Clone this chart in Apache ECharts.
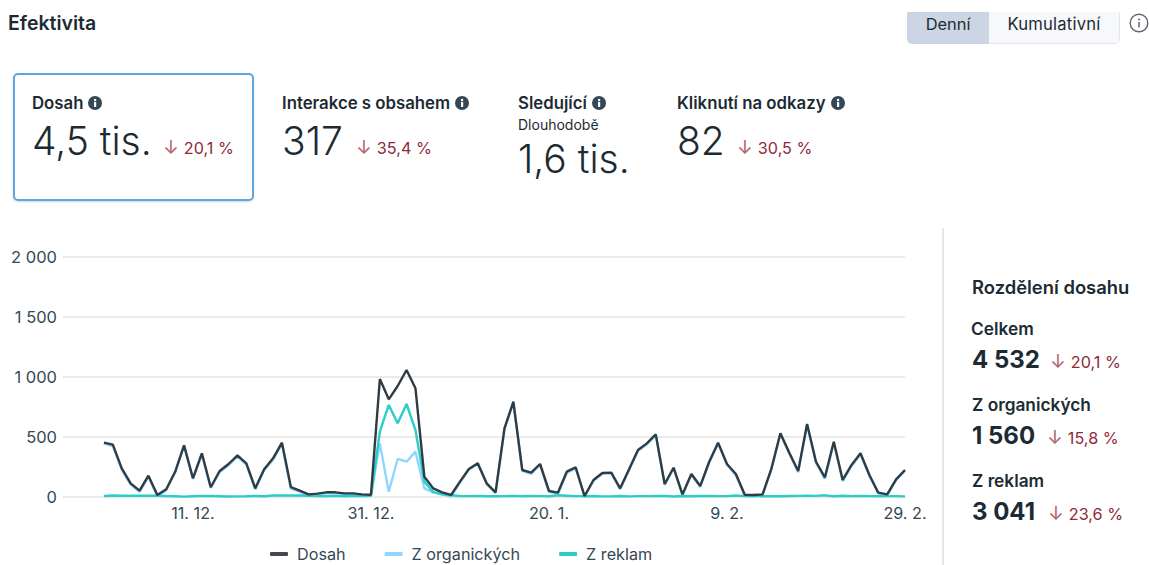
<!DOCTYPE html>
<html lang="cs">
<head>
<meta charset="utf-8">
<title>Efektivita</title>
<script src="https://cdn.jsdelivr.net/npm/echarts@6/dist/echarts.min.js"></script>
<style>
html,body{margin:0;padding:0;background:#fff;width:1149px;height:565px;overflow:hidden;font-family:Inter,"Noto Sans",sans-serif;color:#1c2b33}
#chart{position:absolute;left:0;top:0;width:1149px;height:565px}
.t{position:absolute;white-space:nowrap;line-height:1}
.lab{font-size:16.8px;font-weight:600}
.big{font-size:39px;font-weight:300}
.red{font-size:16.2px;color:#8f2a38;font-weight:400}
.arr{color:#b0666f;font-size:19px;margin-right:5px}
.num{font-size:24px;font-weight:700}
.sm{font-size:14px;font-weight:400}
.side{font-size:17.3px}
.info{display:inline-block;vertical-align:-1px;margin-left:5px}
#card{position:absolute;left:13px;top:73px;width:237px;height:124px;border:2px solid #62a5dc;border-radius:5px;box-shadow:0 1px 2px rgba(60,110,170,.25)}
#sep{position:absolute;left:942px;top:228px;width:2px;height:337px;background:#e3e8f0}
#b1{position:absolute;left:907px;top:12px;width:82px;height:32px;background:#cbd5e3;border-radius:0 0 0 5px;text-align:center;line-height:25px;font-size:16.4px}
#b2{position:absolute;left:989px;top:12px;width:130px;height:31px;background:#f6f8fa;border-bottom:1px solid #e3e7ed;border-right:1px solid #e3e7ed;border-radius:0 0 5px 0;text-align:center;line-height:25px;font-size:16.6px;letter-spacing:.2px}
</style>
</head>
<body>
<div id="chart"></div>
<div class="t" style="left:8px;top:14px;font-size:19.5px;font-weight:600">Efektivita</div>
<div id="b1">Denní</div><div id="b2">Kumulativní</div>
<svg style="position:absolute;left:1129px;top:13px" width="20" height="20"><circle cx="10" cy="10" r="8.8" fill="none" stroke="#606770" stroke-width="1.4"/><rect x="9.3" y="9" width="1.5" height="5.5" fill="#606770"/><circle cx="10" cy="6.6" r="1" fill="#606770"/></svg>

<div id="card"></div>
<div class="t lab" style="left:32px;top:95px" data-info>Dosah</div>
<div class="t big" style="left:32px;top:121px">4,5 tis.</div>
<div class="t red" style="left:163px;top:138px"><span class="arr">↓</span>20,1 %</div>

<div class="t lab" style="left:282px;top:95px" data-info>Interakce s obsahem</div>
<div class="t big" style="left:282px;top:121px">317</div>
<div class="t red" style="left:356px;top:138px"><span class="arr">↓</span>35,4 %</div>

<div class="t lab" style="left:518px;top:95px" data-info>Sledující</div>
<div class="t sm" style="left:518px;top:118px">Dlouhodobě</div>
<div class="t big" style="left:518px;top:139px">1,6 tis.</div>

<div class="t lab" style="left:677px;top:95px" data-info>Kliknutí na odkazy</div>
<div class="t big" style="left:677px;top:121px">82</div>
<div class="t red" style="left:737px;top:138px"><span class="arr">↓</span>30,5 %</div>

<div id="sep"></div>
<div class="t" style="left:972px;top:278px;font-size:18.4px;font-weight:600">Rozdělení dosahu</div>
<div class="t lab side" style="left:971px;top:320px">Celkem</div>
<div class="t num" style="left:972px;top:348px">4 532</div>
<div class="t red" style="left:1050px;top:352px"><span class="arr">↓</span>20,1 %</div>
<div class="t lab side" style="left:972px;top:396px">Z organických</div>
<div class="t num" style="left:972px;top:424px">1 560</div>
<div class="t red" style="left:1047px;top:428px"><span class="arr">↓</span>15,8 %</div>
<div class="t lab side" style="left:972px;top:472px">Z reklam</div>
<div class="t num" style="left:972px;top:500px">3 041</div>
<div class="t red" style="left:1048px;top:504px"><span class="arr">↓</span>23,6 %</div>

<script>
const dates = [
"1. 12.","2. 12.","3. 12.","4. 12.","5. 12.","6. 12.","7. 12.","8. 12.","9. 12.","10. 12.",
"11. 12.","12. 12.","13. 12.","14. 12.","15. 12.","16. 12.","17. 12.","18. 12.","19. 12.","20. 12.",
"21. 12.","22. 12.","23. 12.","24. 12.","25. 12.","26. 12.","27. 12.","28. 12.","29. 12.","30. 12.",
"31. 12.","1. 1.","2. 1.","3. 1.","4. 1.","5. 1.","6. 1.","7. 1.","8. 1.","9. 1.",
"10. 1.","11. 1.","12. 1.","13. 1.","14. 1.","15. 1.","16. 1.","17. 1.","18. 1.","19. 1.",
"20. 1.","21. 1.","22. 1.","23. 1.","24. 1.","25. 1.","26. 1.","27. 1.","28. 1.","29. 1.",
"30. 1.","31. 1.","1. 2.","2. 2.","3. 2.","4. 2.","5. 2.","6. 2.","7. 2.","8. 2.",
"9. 2.","10. 2.","11. 2.","12. 2.","13. 2.","14. 2.","15. 2.","16. 2.","17. 2.","18. 2.",
"19. 2.","20. 2.","21. 2.","22. 2.","23. 2.","24. 2.","25. 2.","26. 2.","27. 2.","28. 2.",
"29. 2."];
const dosah = [
453,436,239,114,53,178,17,64,210,430,
156,364,81,217,275,347,281,72,231,322,
453,83,53,22,28,39,39,30,30,22,
19,983,814,925,1058,906,169,72,39,17,
128,233,281,114,39,572,794,225,203,275,
50,36,211,247,8,142,200,203,72,231,
392,447,522,108,244,22,192,92,294,453,
275,192,19,17,22,239,531,369,217,608,
294,164,461,142,267,364,183,36,22,147,
225];
const organicke = [
445,424,228,103,42,168,6,56,206,427,
150,355,75,208,265,335,270,62,224,310,
440,70,42,12,20,30,30,24,22,14,
10,447,44,317,294,378,72,36,22,4,
120,228,275,108,33,565,785,218,192,268,
44,22,200,240,2,134,195,198,64,226,
385,440,514,100,240,14,186,84,286,446,
268,180,12,8,16,232,525,360,206,600,
285,150,455,132,260,355,176,30,15,140,
220];
const reklamy = [
8,12,11,11,10,10,11,8,6,3,
6,9,8,6,4,5,6,8,6,12,
13,13,12,10,7,6,9,6,8,8,
9,544,767,614,775,558,128,42,22,14,
8,7,8,6,6,7,9,6,8,7,
6,14,11,7,6,8,5,5,8,5,
7,7,8,8,4,8,6,8,8,7,
7,12,7,9,6,7,6,8,9,10,
9,14,6,10,7,9,7,6,7,7,
5];
const xTicks = ["11. 12.","31. 12.","20. 1.","9. 2.","29. 2."];
const yTickLabels = {0:"0",500:"500",1000:"1 000",1500:"1 500",2000:"2 000"};
const names = ["Dosah","Z organických","Z reklam"];

document.querySelectorAll('[data-info]').forEach(function(el){
  el.insertAdjacentHTML('beforeend','<svg class="info" width="14" height="14"><circle cx="7" cy="7" r="7" fill="#344854"/><rect x="6" y="6" width="2.2" height="5" fill="#fff"/><circle cx="7.1" cy="4" r="1.2" fill="#fff"/></svg>');
});

const pairs = vals => dates.map((d,i)=>[i,vals[i]]);
const chart = echarts.init(document.getElementById('chart'),null,{renderer:'svg',width:1149,height:565});
chart.setOption({
  animation:false,
  backgroundColor:'transparent',
  grid:{left:63,right:244,top:257,bottom:68,containLabel:false},
  legend:{
    left:270,top:546,padding:0,itemWidth:18,itemHeight:4,itemGap:39,icon:'roundRect',
    textStyle:{fontFamily:'Inter',fontSize:16.2,color:'#344854',padding:[0,0,0,4]},
    data:names
  },
  xAxis:{
    type:'value',
    min:-4.6,
    max:dates.length-1,
    axisLine:{show:false},axisTick:{show:false},splitLine:{show:false},
    axisLabel:{
      customValues:xTicks.map(t=>dates.indexOf(t)),
      margin:8,hideOverlap:false,
      fontFamily:'Inter',fontSize:16.2,color:'#344854',
      formatter:v=>dates[v]
    }
  },
  yAxis:{
    type:'value',min:0,max:2000,interval:500,
    axisLine:{show:false},axisTick:{show:false},
    splitLine:{lineStyle:{color:'#e3e3e3',width:1.5}},
    axisLabel:{margin:6,fontFamily:'Inter',fontSize:16.5,color:'#344854',
      formatter:v=>yTickLabels[v]}
  },
  series:[
    {name:names[0],type:'line',z:4,showSymbol:false,data:pairs(dosah),
     lineStyle:{color:'#2f3c43',width:2.4},itemStyle:{color:'#444950'}},
    {name:names[1],type:'line',z:2,showSymbol:false,data:pairs(organicke),
     lineStyle:{color:'#8fd6ff',width:2.4},itemStyle:{color:'#8fd6ff'}},
    {name:names[2],type:'line',z:3,showSymbol:false,data:pairs(reklamy),
     lineStyle:{color:'#2bcdc8',width:2.4},itemStyle:{color:'#2bcdc8'}}
  ]
});
</script>
</body>
</html>
